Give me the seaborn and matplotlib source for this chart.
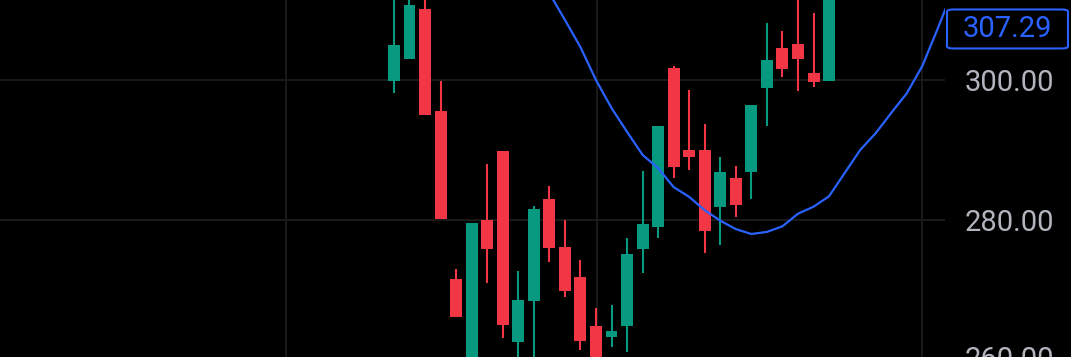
import numpy as np
import pandas as pd
import matplotlib
matplotlib.use("Agg")
import matplotlib.pyplot as plt
import matplotlib.transforms as mtransforms
from matplotlib.patches import FancyBboxPatch
import seaborn as sns

# ---------------- data ----------------
candle_idx = list(range(29))
opens = [299.86, 303.0, 310.1, 295.6, 271.6, 258.5, 280.0, 289.9, 262.6, 268.4,
         283.0, 276.1, 271.9, 264.9, 263.3, 264.9, 275.9, 279.0, 301.7, 290.0,
         290.0, 281.9, 286.0, 286.9, 298.9, 304.6, 305.1, 301.0, 299.9]
highs = [313.0, 312.5, 312.5, 299.9, 273.0, 279.6, 288.0, 289.9, 272.7, 282.0,
         284.9, 280.0, 274.3, 267.4, 267.9, 277.4, 287.0, 293.4, 302.0, 298.6,
         293.7, 289.0, 287.7, 296.4, 308.1, 307.0, 312.0, 309.6, 314.0]
lows = [298.1, 303.0, 295.0, 280.1, 266.1, 257.0, 271.0, 263.1, 259.0, 259.5,
        274.0, 269.0, 261.4, 257.5, 261.9, 261.1, 272.4, 277.4, 286.0, 287.1,
        275.3, 276.4, 280.4, 283.0, 293.4, 300.4, 298.4, 299.0, 299.9]
closes = [305.0, 310.7, 295.0, 280.1, 266.1, 279.6, 275.9, 265.0, 268.6, 281.6,
          276.0, 269.9, 262.7, 258.5, 264.1, 275.1, 279.4, 293.4, 287.6, 289.0,
          278.4, 286.9, 282.1, 296.4, 302.9, 301.6, 303.0, 299.7, 313.5]

ma_idx = list(range(9, 37))
ma_vals = [317.0, 312.4, 308.6, 304.7, 300.0, 296.0, 292.6, 289.3, 287.4, 284.7,
           283.3, 281.4, 279.9, 278.7, 278.0, 278.3, 279.1, 280.9, 281.9, 283.4,
           286.7, 290.0, 292.4, 295.3, 298.1, 302.0, 307.4, 313.0]

y_ticks = [280, 300]
y_tick_labels = ["280.00", "300.00"]
low_tick = 260
low_tick_label = "260.00"
last_value = 307.29
last_label = "307.29"

# ---------------- style ----------------
GREEN = "#089981"
RED = "#f23645"
BLUE = "#2962ff"
GRID = "#1c1c1c"
TEXT = "#b2b5be"
BG = "#000000"

sns.set_theme(style="dark", rc={
    "axes.facecolor": BG,
    "figure.facecolor": BG,
    "axes.edgecolor": BG,
    "grid.color": GRID,
})
plt.rcParams["font.family"] = ["Roboto", "DejaVu Sans"]

W, H = 1071, 357
fig = plt.figure(figsize=(W / 100, H / 100), dpi=100)
plot_w = 945
ax = fig.add_axes([0, 0, plot_w / W, 1])
ax.set_facecolor(BG)

df = pd.DataFrame({"i": candle_idx, "o": opens, "h": highs, "l": lows, "c": closes})
df["up"] = df["c"] >= df["o"]
df["color"] = np.where(df["up"], GREEN, RED)

# wicks
ax.vlines(df["i"], df["l"], df["h"], colors=df["color"], linewidth=1.5, zorder=3)
# bodies
body_bottom = np.minimum(df["o"], df["c"])
body_h = np.maximum(np.abs(df["c"] - df["o"]), 0.15)
ax.bar(df["i"], body_h, bottom=body_bottom, width=0.77, color=df["color"],
       linewidth=0, zorder=4)

# moving average line
ma_df = pd.DataFrame({"i": ma_idx, "v": ma_vals})
sns.lineplot(data=ma_df, x="i", y="v", ax=ax, color=BLUE, linewidth=1.6, zorder=5)

ax.set_xlim(-25.35, 35.46)
ax.set_ylim(260.43, 311.43)

# grid
ax.set_xticks([-6.95, 13.06, 33.98])
ax.set_xticklabels([])
ax.set_yticks(y_ticks)
ax.set_yticklabels(y_tick_labels)
ax.grid(True, color=GRID, linewidth=1.3)
ax.set_axisbelow(True)
ax.set_xlabel("")
ax.set_ylabel("")
ax.tick_params(axis="x", length=0)
ax.yaxis.tick_right()
ax.tick_params(axis="y", length=0, pad=14.4, labelsize=21, labelcolor=TEXT)
for s in ax.spines.values():
    s.set_visible(False)

# 260 label partially visible below the plot
trans = mtransforms.blended_transform_factory(ax.transAxes, ax.transData)
ax.text(1 + 20 / plot_w, low_tick, low_tick_label, transform=trans, ha="left",
        va="center", fontsize=21, color=TEXT, clip_on=False)

# last value box
fig.canvas.draw()
y_disp = ax.transData.transform((0, last_value))[1]
y_fig = y_disp / H
bw, bh = 121 / W, 39 / H
bx = 947 / W
box = FancyBboxPatch((bx, y_fig - bh / 2), bw, bh,
                     boxstyle="round,pad=0,rounding_size=0.006",
                     transform=fig.transFigure, facecolor=BG, edgecolor=BLUE,
                     linewidth=1.5, zorder=10)
fig.patches.append(box)
fig.text(bx + bw / 2, y_fig, last_label, ha="center", va="center",
         fontsize=21, color=BLUE, zorder=11)

fig.savefig("out.png", dpi=100, facecolor=BG)
